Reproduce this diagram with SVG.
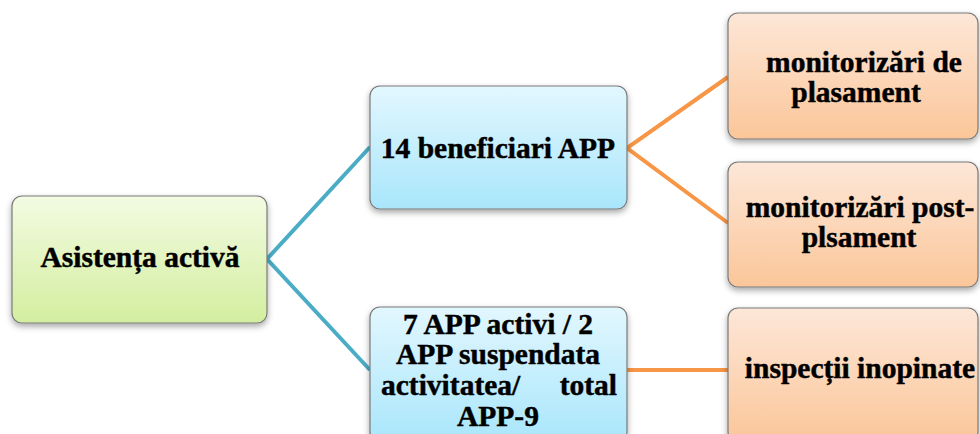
<svg xmlns="http://www.w3.org/2000/svg" width="980" height="434" viewBox="0 0 980 434">
<defs>
<linearGradient id="gGreen" x1="0" y1="0" x2="0" y2="1"><stop offset="0" stop-color="#f3fbe2"/><stop offset="1" stop-color="#d3ee9f"/></linearGradient>
<linearGradient id="gBlue" x1="0" y1="0" x2="0" y2="1"><stop offset="0" stop-color="#e2f7fe"/><stop offset="1" stop-color="#a9e6fb"/></linearGradient>
<linearGradient id="gOrange" x1="0" y1="0" x2="0" y2="1"><stop offset="0" stop-color="#fde7d8"/><stop offset="1" stop-color="#fbc699"/></linearGradient>
<filter id="sh" x="-10%" y="-10%" width="120%" height="130%"><feDropShadow dx="0" dy="3" stdDeviation="3" flood-color="#000" flood-opacity="0.35"/></filter>
<style>
.box{stroke:#7a7a7a;stroke-width:1.2;filter:url(#sh)}
text{font-family:'Liberation Serif','Times New Roman','DejaVu Serif',serif;font-weight:700;font-size:29.5px;fill:#000;stroke:#000;stroke-width:0.45}
.c{text-anchor:middle}
.blue{stroke:#4bacc6;stroke-width:4;fill:none}
.orange{stroke:#f79646;stroke-width:4;fill:none}
</style>
</defs>
<rect width="980" height="434" fill="#ffffff"/>
<g id="connectors">
<polyline class="blue" points="370,147 267,259 370,370"/>
<polyline class="orange" points="728,77 627,148 728,223"/>
<line class="orange" x1="627" y1="370" x2="728" y2="370"/>
</g>
<g id="root">
<rect class="box" x="12" y="196" width="255" height="127" rx="10" fill="url(#gGreen)"/>
<text class="c" x="140" y="267">Asistența activă</text>
</g>
<g id="beneficiari">
<rect class="box" x="370" y="86" width="257" height="123" rx="10" fill="url(#gBlue)"/>
<text class="c" x="498" y="158">14 beneficiari APP</text>
</g>
<g id="app">
<rect class="box" x="370" y="307" width="257" height="135" rx="10" fill="url(#gBlue)"/>
<text class="c" x="498" y="334">7 APP activi / 2</text>
<text class="c" x="498" y="364">APP suspendata</text>
<text x="381" y="395">activitatea/</text>
<text x="617" y="395" text-anchor="end">total</text>
<text class="c" x="498" y="426">APP-9</text>
</g>
<g id="monitorizari-plasament">
<rect class="box" x="728" y="13" width="250" height="126" rx="10" fill="url(#gOrange)"/>
<text class="c" x="864" y="72">monitorizări de</text>
<text class="c" x="856" y="102">plasament</text>
</g>
<g id="monitorizari-post">
<rect class="box" x="728" y="162" width="250" height="125" rx="10" fill="url(#gOrange)"/>
<text class="c" x="860" y="217">monitorizări post-</text>
<text class="c" x="859" y="247">plsament</text>
</g>
<g id="inspectii">
<rect class="box" x="728" y="308" width="250" height="134" rx="10" fill="url(#gOrange)"/>
<text class="c" x="860" y="378">inspecții inopinate</text>
</g>
</svg>
